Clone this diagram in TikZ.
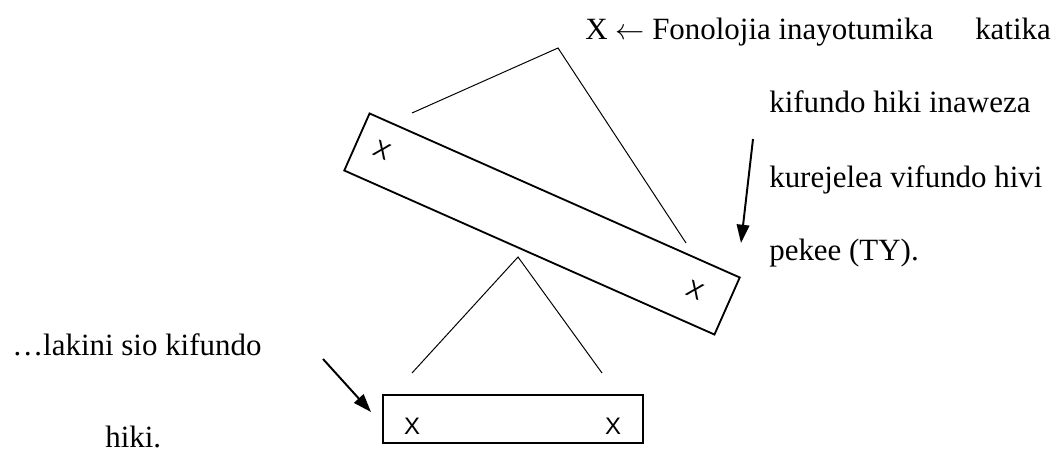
\documentclass[tikz,border=0pt]{standalone}
\usepackage{fontspec}
\setmainfont{Liberation Serif}
\newfontfamily\boxfont{Liberation Sans}
\usetikzlibrary{arrows.meta,positioning}

\begin{document}
\begin{tikzpicture}[x=0.025cm,y=-0.025cm,>=Triangle,
  txt/.style={anchor=base west,inner sep=0pt,font=\fontsize{22}{26}\selectfont},
  xmark/.style={inner sep=0pt,font=\boxfont\fontsize{17}{20}\selectfont},
  leg/.style={line width=0.7pt},
  fat/.style={line width=1.4pt,-{Triangle[length=13pt,width=9pt]}}]

\useasboundingbox (0,0) rectangle (1062,452);

% Boîte inclinée
\node[
draw,
line width=1.3pt,
rotate=-23.9,
minimum width=10.12cm,
minimum height=1.56cm
] (upper) at (542,224) {};
\node[xmark,rotate=-23.9] (ux1) at (382,150) {X};
\node[xmark,rotate=-23.9] (ux2) at (695,290) {X};

% Boîte du bas
\node[
draw,
line width=1.3pt,
minimum width=6.5cm,
minimum height=1.2cm
] (lower) at (513,419) {};
\node[xmark] (lx1) at (412,426) {X};
\node[xmark] (lx2) at (613,426) {X};

% Branches
\coordinate (topapex) at (558,48);
\coordinate (topl) at (412,113);
\coordinate (topr) at (686,243);
\draw[leg] (topl) -- (topapex) -- (topr);

\coordinate (lowapex) at (518,257);
\coordinate (lowl) at (412,373);
\coordinate (lowr) at (602,373);
\draw[leg] (lowl) -- (lowapex) -- (lowr);

% Texte à droite
\node[txt] (l1) at (585,40) {X $\leftarrow$ Fonolojia inayotumika\hspace{1.05cm}katika};
\node[txt] (l2) at (769,113) {kifundo hiki inaweza};
\node[txt] (l3) at (769,188) {kurejelea vifundo hivi};
\node[txt] (l4) at (769,260) {pekee (TY).};

% Texte à gauche
\node[txt] (r1) at (12,355) {…lakini sio kifundo};
\node[txt] (r2) at (105,447) {hiki.};

% Flèches
\coordinate (a1) at (753,139);
\coordinate (a1tip) at (741,243);
\draw[fat] (a1) -- (a1tip);
\coordinate (a2) at (323,359);
\coordinate (a2tip) at (371,412);
\draw[fat] (a2) -- (a2tip);

\end{tikzpicture}
\end{document}
